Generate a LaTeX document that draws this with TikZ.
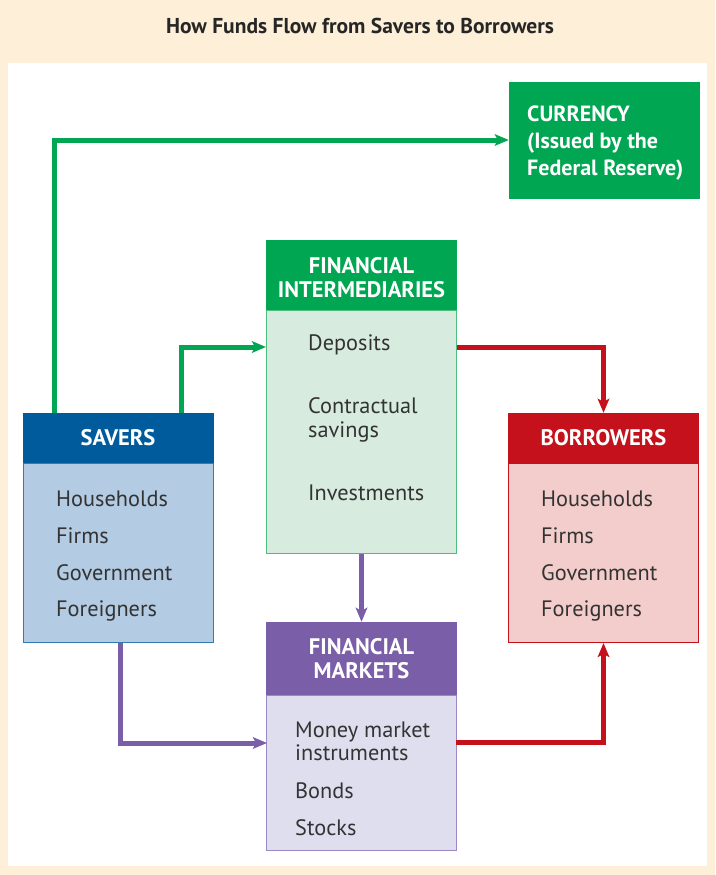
\documentclass[tikz,border=0pt]{standalone}
\usepackage{fontspec}
\setmainfont{PT Sans}
\usetikzlibrary{arrows.meta}
\definecolor{cream}{HTML}{FDEFD8}
\definecolor{gfill}{HTML}{00A651}
\definecolor{gbody}{HTML}{D7EBDE}
\definecolor{gline}{HTML}{4DBE7C}
\definecolor{bhead}{HTML}{005B9C}
\definecolor{bbody}{HTML}{B3CBE3}
\definecolor{rhead}{HTML}{C4111B}
\definecolor{rbody}{HTML}{F3CDCB}
\definecolor{phead}{HTML}{7A5EA8}
\definecolor{pbody}{HTML}{DFDEEF}
\definecolor{pline}{HTML}{9C89C4}
\definecolor{txt}{HTML}{333333}
\tikzset{
  head/.style={draw=#1, fill=#1, minimum width=190pt, inner sep=0pt, text=white,
    font=\bfseries\fontsize{22.5}{24}\selectfont, align=center},
  body/.style={minimum width=190pt, inner sep=0pt, line width=1pt},
  item/.style={anchor=west, inner sep=0pt, text=txt, font=\fontsize{22.3}{24}\selectfont, align=left},
  flow/.style={line width=5pt, draw=#1, -{Stealth[length=14pt,width=11.5pt,inset=3pt]}},
}
\begin{document}
\begin{tikzpicture}[x=1pt,y=-1pt]
\fill[cream] (0,0) rectangle (715,875);
\fill[white] (8,63) rectangle (707,866);
\useasboundingbox (0,0) rectangle (715,875);
\node[font=\bfseries\fontsize{21.5}{24}\selectfont, text=black!85] (title) at (360,26) {How Funds Flow from Savers to Borrowers};

% Currency
\node[draw=gfill, fill=gfill, minimum width=190pt, minimum height=116pt, inner sep=0pt] (cur) at (604,140) {};
\node[anchor=west, text=white, font=\bfseries\fontsize{22}{27}\selectfont, align=left, inner sep=0pt] (curtxt) at (527,143.5) {CURRENCY\\(Issued by the\\Federal Reserve)};

% Savers
\node[head=bhead, minimum height=50pt] (savH) at (118,438) {SAVERS};
\node[body, draw=bhead!80, fill=bbody, minimum height=179pt] (savB) at (118,553) {};
\node[item] (s1) at (56,499) {Households};
\node[item] (s2) at (56,536) {Firms};
\node[item] (s3) at (56,573) {Government};
\node[item] (s4) at (56,610.5) {Foreigners};

% Financial intermediaries
\node[head=gfill, minimum height=70pt] (fiH) at (361.5,275) {};
\node[text=white, font=\bfseries\fontsize{22.5}{24}\selectfont, align=center, inner sep=0pt] (fiHt) at (361.5,278) {FINANCIAL\\INTERMEDIARIES};
\node[body, draw=gline, fill=gbody, minimum height=243pt] (fiB) at (361.5,431.5) {};
\node[item] (f1) at (308,345) {Deposits};
\node[item] (f2) at (308,420) {Contractual\\savings};
\node[item] (f3) at (308,493) {Investments};

% Borrowers
\node[head=rhead, minimum height=50pt] (borH) at (603.5,438) {BORROWERS};
\node[body, draw=rhead, fill=rbody, minimum height=179pt] (borB) at (603.5,553) {};
\node[item] (b1) at (541,499) {Households};
\node[item] (b2) at (541,536) {Firms};
\node[item] (b3) at (541,573) {Government};
\node[item] (b4) at (541,610.5) {Foreigners};

% Financial markets
\node[head=phead, minimum height=73pt] (fmH) at (361.5,658.5) {FINANCIAL\\MARKETS};
\node[body, draw=pline, fill=pbody, minimum height=155pt] (fmB) at (361.5,772.5) {};
\node[item, font=\fontsize{22.3}{23}\selectfont] (m1) at (295,741) {Money market\\instruments};
\node[item] (m2) at (295,791) {Bonds};
\node[item] (m3) at (295,828) {Stocks};

% connector end points
\coordinate (fiin) at (266,347);
\coordinate (fiout) at (457,347);
\coordinate (fmin) at (267,743);
\coordinate (fmout) at (456,742);

% flows
\draw[flow=gfill] ([xshift=32pt]savH.north west) |- (cur.west);
\draw[flow=gfill] ([xshift=-32pt]savH.north east) |- (fiin);
\draw[flow=rhead] (fiout) -| (borH.north);
\draw[flow=phead] (fiB.south) -- (fmH.north);
\draw[flow=phead] ([xshift=98pt]savB.south west) |- (fmin);
\draw[flow=rhead] (fmout) -| (borB.south);
\end{tikzpicture}
\end{document}
